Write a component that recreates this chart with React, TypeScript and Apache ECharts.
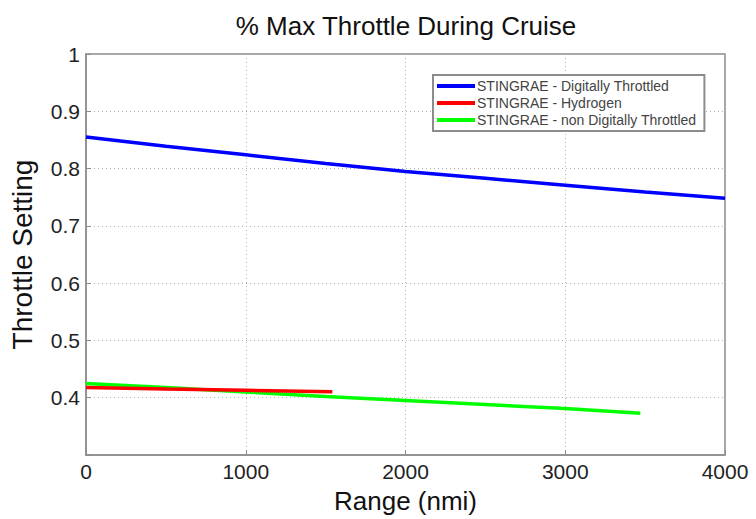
import React, { useEffect, useRef } from "react";
import * as echarts from "echarts";

const xTicks = [0, 1000, 2000, 3000, 4000];
const yTicks = [0.3, 0.4, 0.5, 0.6, 0.7, 0.8, 0.9, 1];

const seriesNames = [
  "STINGRAE - Digitally Throttled",
  "STINGRAE - Hydrogen",
  "STINGRAE - non Digitally Throttled",
];
const seriesColors = ["#0000ff", "#ff0000", "#00ff00"];

const digitalRange = [0, 500, 1000, 1500, 2000, 2500, 3000, 3500, 4000];
const digitalThrottle = [0.855, 0.839, 0.824, 0.809, 0.795, 0.783, 0.771, 0.759, 0.748];

const hydrogenRange = [0, 500, 1000, 1542];
const hydrogenThrottle = [0.418, 0.415, 0.413, 0.4105];

const nonDigitalRange = [0, 500, 1000, 1500, 2000, 2500, 3000, 3470];
const nonDigitalThrottle = [0.425, 0.418, 0.41, 0.402, 0.395, 0.388, 0.381, 0.373];

const pairs = (xs: number[], ys: number[]) => xs.map((x, i) => [x, ys[i]]);

export default function App() {
  const ref = useRef<HTMLDivElement>(null);
  useEffect(() => {
    if (!ref.current) return;
    const chart = echarts.init(ref.current, undefined, { renderer: "svg" });
    const font = "Liberation Sans, Arial, sans-serif";
    const dataSets = [
      pairs(digitalRange, digitalThrottle),
      pairs(hydrogenRange, hydrogenThrottle),
      pairs(nonDigitalRange, nonDigitalThrottle),
    ];
    chart.setOption({
      animation: false,
      backgroundColor: "#ffffff",
      textStyle: { fontFamily: font },
      title: {
        text: "% Max Throttle During Cruise",
        left: 401,
        textAlign: "center",
        top: 8,
        textStyle: { fontSize: 26, fontWeight: "normal", color: "#111", fontFamily: font },
      },
      grid: {
        left: 85,
        right: 31,
        top: 54,
        bottom: 64,
        show: true,
        borderColor: "#8c8c8c",
        borderWidth: 1.5,
        backgroundColor: "transparent",
      },
      legend: {
        orient: "vertical",
        left: 433,
        top: 75,
        padding: [4, 8, 4, 4],
        itemGap: 3,
        itemWidth: 38,
        itemHeight: 4,
        icon: "rect",
        backgroundColor: "#ffffff",
        borderColor: "#8c8c8c",
        borderWidth: 2,
        borderRadius: 0,
        data: seriesNames,
        textStyle: { fontSize: 14, color: "#444", fontFamily: font, padding: [0, 0, 0, -3] },
      },
      xAxis: {
        type: "value",
        min: xTicks[0],
        max: xTicks[xTicks.length - 1],
        interval: 1000,
        name: "Range (nmi)",
        nameLocation: "middle",
        nameGap: 33,
        nameTextStyle: { fontSize: 26, color: "#111", fontFamily: font },
        axisLine: { show: true, lineStyle: { color: "#8c8c8c", width: 1.5 } },
        axisTick: { show: true, inside: true, length: 5, lineStyle: { color: "#8c8c8c" } },
        axisLabel: {
          fontSize: 21,
          color: "#222",
          margin: 6,
          fontFamily: font,
          formatter: (v: number) => String(Math.round(v)),
        },
        splitLine: { show: true, lineStyle: { color: "#b0b0b0", type: [1, 3], width: 1 } },
      },
      yAxis: {
        type: "value",
        min: yTicks[0],
        max: yTicks[yTicks.length - 1],
        interval: 0.1,
        name: "Throttle Setting",
        nameLocation: "middle",
        nameGap: 50,
        nameTextStyle: { fontSize: 28, color: "#111", fontFamily: font },
        axisLine: { show: true, lineStyle: { color: "#8c8c8c", width: 1.5 } },
        axisTick: { show: true, inside: true, length: 5, lineStyle: { color: "#8c8c8c" } },
        axisLabel: {
          fontSize: 21,
          color: "#222",
          margin: 6,
          fontFamily: font,
          formatter: (v: number) => {
            const r = Math.round(v * 10) / 10;
            if (Math.abs(r - yTicks[0]) < 1e-9) return "";
            return r === 1 ? "1" : String(r);
          },
        },
        splitLine: { show: true, lineStyle: { color: "#b0b0b0", type: [1, 3], width: 1 } },
      },
      series: seriesNames.map((name, i) => ({
        name,
        type: "line",
        data: dataSets[i],
        smooth: false,
        showSymbol: false,
        symbol: "none",
        lineStyle: { color: seriesColors[i], width: 3.5 },
        itemStyle: { color: seriesColors[i] },
        z: i === 2 ? 2 : i === 1 ? 3 : 4,
      })),
    });
    return () => chart.dispose();
  }, []);
  return (
    <div
      ref={ref}
      style={{ position: "fixed", left: 0, top: 0, width: 756, height: 519, background: "#fff" }}
    />
  );
}
